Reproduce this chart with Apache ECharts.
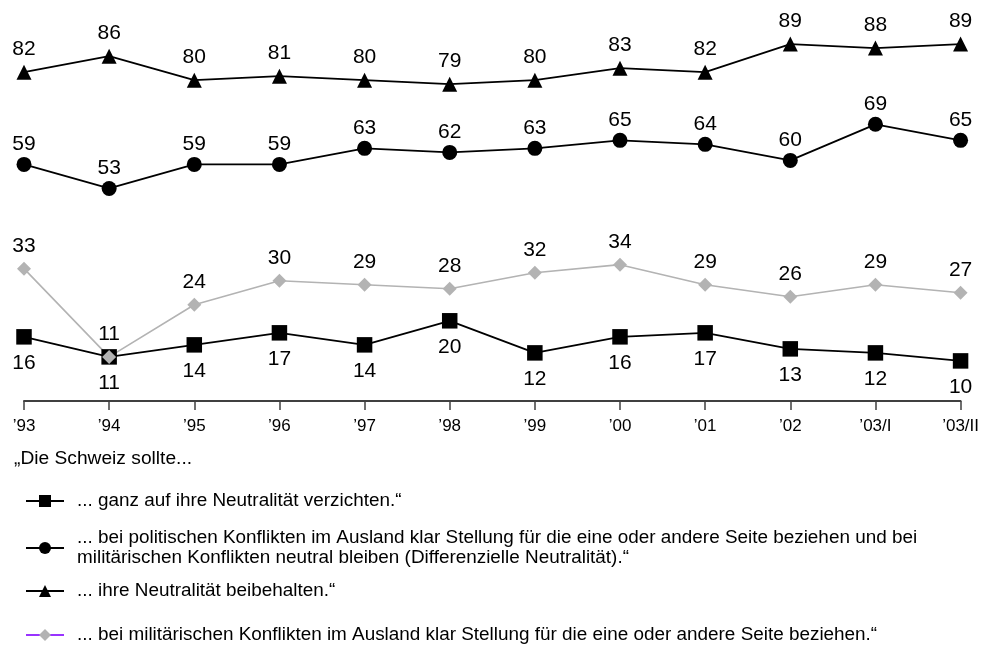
<!DOCTYPE html>
<html><head><meta charset="utf-8">
<script src="https://cdn.jsdelivr.net/npm/echarts@6/dist/echarts.min.js"></script>
<style>html,body{margin:0;padding:0;background:#fff}#c{width:982px;height:648px}</style>
</head><body><div id="c"></div>
<script>
const categories = ["\u201993","\u201994","\u201995","\u201996","\u201997","\u201998","\u201999","\u201900","\u201901","\u201902","\u201903/I","\u201903/II"];
const verzichten = [16,11,14,17,14,20,12,16,17,13,12,10];
const differenziell = [59,53,59,59,63,62,63,65,64,60,69,65];
const beibehalten = [82,86,80,81,80,79,80,83,82,89,88,89];
const militaerisch = [33,11,24,30,29,28,32,34,29,26,29,27];
const titleText = "\u201EDie Schweiz sollte...";
const names = [
  "... ganz auf ihre Neutralit\u00e4t verzichten.\u201C",
  "... bei politischen Konflikten im Ausland klar Stellung f\u00fcr die eine oder andere Seite beziehen und bei\nmilit\u00e4rischen Konflikten neutral bleiben (Differenzielle Neutralit\u00e4t).\u201C",
  "... ihre Neutralit\u00e4t beibehalten.\u201C",
  "... bei milit\u00e4rischen Konflikten im Ausland klar Stellung f\u00fcr die eine oder andere Seite beziehen.\u201C"
];

const FONT = "'Liberation Sans', Arial, Helvetica, sans-serif";
const chart = echarts.init(document.getElementById('c'), null, {renderer:'canvas'});
const lbl = (pos, dist) => ({show:true, position:pos, distance:dist, fontSize:21, color:'#000', fontFamily:FONT});
const legendCenters = [501, 548, 591, 635];
function mkLegend(i, extra) {
  const lines = names[i].split('\n').length;
  const lh = 20;
  return Object.assign({
    orient:'vertical', left:25, top: legendCenters[i] - lines*lh/2, padding:0,
    itemWidth:38, itemHeight:15, selectedMode:false,
    data:[names[i]],
    textStyle:{fontSize:18.9, lineHeight:lh, color:'#000', fontFamily:FONT, padding:[0,0,0,8]}
  }, extra || {});
}
chart.setOption({
  animation:false,
  backgroundColor:'#fff',
  textStyle:{fontFamily:FONT},
  title:{text:titleText, left:14, top:449, padding:0, textStyle:{fontSize:19.2, fontWeight:'normal', color:'#000', fontFamily:FONT}},
  grid:{left:24, right:20, top:-3, bottom:247, containLabel:false},
  xAxis:{type:'category', data:categories, boundaryGap:false,
    axisLine:{lineStyle:{color:'#404040', width:2}},
    axisTick:{show:true, length:9, lineStyle:{color:'#404040', width:1.5}},
    axisLabel:{fontSize:17, color:'#000', margin:17, fontFamily:FONT}},
  yAxis:{type:'value', min:0, max:100, show:false, splitLine:{show:false}},
  legend:[mkLegend(0), mkLegend(1), mkLegend(2), mkLegend(3, {lineStyle:{color:'#9933ff'}})],
  series:[
    {name:names[0], type:'line', data:verzichten, symbol:'rect', symbolSize:15.5,
      lineStyle:{color:'#000', width:1.8}, itemStyle:{color:'#000'}, label:lbl('bottom', 8)},
    {name:names[1], type:'line', data:differenziell, symbol:'circle', symbolSize:15,
      lineStyle:{color:'#000', width:1.8}, itemStyle:{color:'#000'}, label:lbl('top', 2)},
    {name:names[2], type:'line', data:beibehalten, symbol:'triangle', symbolSize:15,
      lineStyle:{color:'#000', width:1.8}, itemStyle:{color:'#000'}, label:lbl('top', 5)},
    {name:names[3], type:'line', data:militaerisch, symbol:'diamond', symbolSize:14,
      lineStyle:{color:'#b3b3b3', width:1.6}, itemStyle:{color:'#b3b3b3'}, label:lbl('top', 5), z:3}
  ]
});
</script></body></html>
